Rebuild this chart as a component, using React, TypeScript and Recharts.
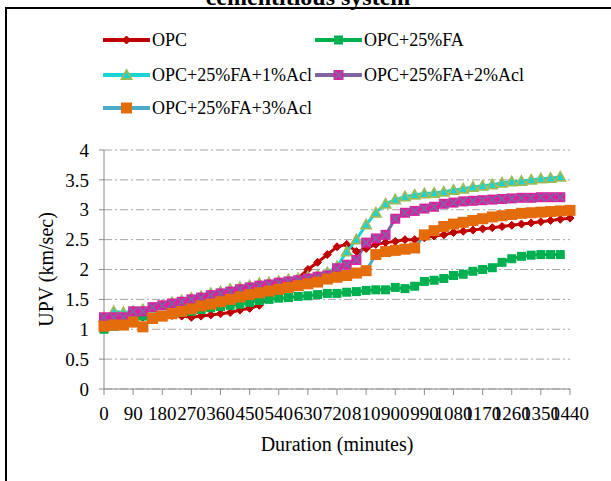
import React from 'react';
import {
    ComposedChart,
    Line,
    XAxis,
    YAxis,
    CartesianGrid,
    Label,
} from 'recharts';

const FONT = '"Liberation Serif", "Times New Roman", serif';

// minutes, one reading every 30 min
const minutes = [
    0, 30, 60, 90, 120, 150, 180, 210, 240, 270, 300, 330, 360, 390, 420, 450, 480,
    510, 540, 570, 600, 630, 660, 690, 720, 750, 780, 810, 840, 870, 900, 930, 960,
    990, 1020, 1050, 1080, 1110, 1140, 1170, 1200, 1230, 1260, 1290, 1320, 1350, 1380,
    1410, 1440,
];

const xTicks = [0, 90, 180, 270, 360, 450, 540, 630, 720, 810, 900, 990, 1080, 1170, 1260, 1350, 1440];
const yTicks = [0, 0.5, 1, 1.5, 2, 2.5, 3, 3.5, 4];

const opc = [
    1.15, 1.17, 1.18, 1.2, 1.2, 1.22, 1.22, 1.23, 1.22, 1.2, 1.22, 1.24, 1.26, 1.28, 1.32, 1.35, 1.4,
    1.55, 1.65, 1.75, 1.85, 2.0, 2.12, 2.25, 2.38, 2.42, 2.3, 2.35, 2.42, 2.45, 2.47, 2.5, 2.5,
    2.53, 2.56, 2.58, 2.62, 2.64, 2.66, 2.68, 2.7, 2.72, 2.74, 2.76, 2.78, 2.8, 2.82,
    2.84, 2.86,
];
const fa25 = [
    1.0, 1.05, 1.1, 1.15, 1.22, 1.2, 1.22, 1.25, 1.28, 1.3, 1.33, 1.36, 1.38, 1.4, 1.42, 1.45, 1.48,
    1.5, 1.52, 1.53, 1.55, 1.56, 1.58, 1.6, 1.6, 1.62, 1.63, 1.65, 1.66, 1.66, 1.7, 1.68, 1.72,
    1.8, 1.82, 1.85, 1.9, 1.92, 1.97, 2.0, 2.03, 2.12, 2.18, 2.22, 2.24, 2.25, 2.25,
    2.25, null,
];
const acl1 = [
    1.2, 1.3, 1.28, 1.3, 1.33, 1.35, 1.4, 1.45, 1.48, 1.52, 1.55, 1.6, 1.63, 1.67, 1.7, 1.73, 1.77,
    1.78, 1.8, 1.83, 1.85, 1.88, 1.9, 1.95, 2.05, 2.3, 2.5, 2.75, 2.95, 3.1, 3.17, 3.22, 3.25,
    3.27, 3.28, 3.3, 3.33, 3.35, 3.38, 3.4, 3.42, 3.45, 3.47, 3.48, 3.5, 3.52, 3.53,
    3.55, null,
];
const acl2 = [
    1.2, 1.2, 1.2, 1.3, 1.3, 1.37, 1.4, 1.43, 1.46, 1.5, 1.53, 1.57, 1.6, 1.63, 1.67, 1.7, 1.73,
    1.75, 1.78, 1.8, 1.82, 1.85, 1.88, 1.9, 2.02, 2.08, 2.16, 2.45, 2.52, 2.58, 2.85, 2.95, 2.98,
    3.02, 3.05, 3.1, 3.12, 3.14, 3.15, 3.16, 3.17, 3.18, 3.19, 3.2, 3.2, 3.21, 3.21,
    3.21, null,
];
const acl3 = [
    1.05, 1.07, 1.07, 1.12, 1.04, 1.18, 1.22, 1.26, 1.3, 1.34, 1.39, 1.42, 1.46, 1.5, 1.54, 1.58, 1.61,
    1.64, 1.67, 1.7, 1.73, 1.76, 1.79, 1.84, 1.87, 1.9, 1.94, 1.98, 2.25, 2.3, 2.32, 2.34, 2.36,
    2.58, 2.65, 2.72, 2.76, 2.79, 2.82, 2.85, 2.88, 2.9, 2.92, 2.94, 2.95, 2.96, 2.97,
    2.98, 2.99,
];

const C = {
    opc: '#C00000',
    fa: '#00B050',
    acl1Line: '#1BD3D3',
    acl1Edge: '#9BBB59',
    acl2Line: '#8064A2',
    acl2Fill: '#DE1E9E',
    acl3Line: '#4BACC6',
    acl3Fill: '#E46C0A',
    axis: '#8C8C8C',
    grid: '#A6A6A6',
};

const chartData = minutes.map((m, i) => ({
    min: m,
    opc: opc[i],
    fa25: fa25[i],
    acl1: acl1[i],
    acl2: acl2[i],
    acl3: acl3[i],
}));

// marker shapes, drawn round (cx, cy)
function diamond(cx: number, cy: number, s: number, color: string) {
    return <polygon points={`${cx},${cy - s} ${cx + s},${cy} ${cx},${cy + s} ${cx - s},${cy}`} fill={color} stroke={color} strokeWidth={1} />;
}
function square(cx: number, cy: number, s: number, fill: string) {
    return <rect x={cx - s} y={cy - s} width={s * 2} height={s * 2} fill={fill} />;
}
function triangle(cx: number, cy: number, s: number) {
    return (
        <polygon
            points={`${cx},${cy - s} ${cx + s},${cy + s * 0.8} ${cx - s},${cy + s * 0.8}`}
            fill={C.acl1Line}
            stroke={C.acl1Edge}
            strokeWidth={1.8}
        />
    );
}
function crossSquare(cx: number, cy: number, s: number) {
    return (
        <g>
            <rect x={cx - s} y={cy - s} width={s * 2} height={s * 2} fill={C.acl2Fill} />
            <path d={`M${cx - s + 1},${cy - s + 1}L${cx + s - 1},${cy + s - 1}M${cx + s - 1},${cy - s + 1}L${cx - s + 1},${cy + s - 1}`} stroke={C.acl2Line} strokeWidth={1.8} />
        </g>
    );
}

type Shape = (cx: number, cy: number) => React.ReactElement;

const shapes: Record<string, Shape> = {
    opc: (cx, cy) => diamond(cx, cy, 4, C.opc),
    fa25: (cx, cy) => square(cx, cy, 4.5, C.fa),
    acl1: (cx, cy) => triangle(cx, cy, 5),
    acl2: (cx, cy) => crossSquare(cx, cy, 5),
    acl3: (cx, cy) => square(cx, cy, 5.5, C.acl3Fill),
};

function makeDot(key: string) {
    return (props: any) => {
        const { cx, cy, index, value } = props;
        if (cx == null || cy == null || value == null || Number.isNaN(cy)) return <g key={`${key}-${index}`} />;
        return <g key={`${key}-${index}`}>{shapes[key](cx, cy)}</g>;
    };
}

const legendItems = [
    { key: 'opc', name: 'OPC', line: C.opc, x: 103, y: 40 },
    { key: 'fa25', name: 'OPC+25%FA', line: C.fa, x: 315, y: 40 },
    { key: 'acl1', name: 'OPC+25%FA+1%Acl', line: C.acl1Line, x: 103, y: 75 },
    { key: 'acl2', name: 'OPC+25%FA+2%Acl', line: C.acl2Line, x: 315, y: 75 },
    { key: 'acl3', name: 'OPC+25%FA+3%Acl', line: C.acl3Line, x: 103, y: 108 },
];

function ChartLegend() {
    return (
        <>
            {legendItems.map((it) => (
                <div key={it.key} style={{ position: 'absolute', left: it.x, top: it.y - 10, height: 20, display: 'flex', alignItems: 'center' }}>
                    <svg width={47} height={20}>
                        <line x1={1} y1={10} x2={46} y2={10} stroke={it.line} strokeWidth={4} strokeLinecap="round" />
                        {shapes[it.key](23.5, 10)}
                    </svg>
                    <span style={{ fontFamily: FONT, fontSize: 18, color: '#000', marginLeft: 2, whiteSpace: 'nowrap' }}>{it.name}</span>
                </div>
            ))}
        </>
    );
}

export default function App() {
    return (
        <div style={{ position: 'absolute', left: 0, top: 0, width: 611, height: 481, overflow: 'hidden', background: '#fff' }}>
            <div style={{ position: 'absolute', left: 5, top: 7, width: 700, height: 600, border: '2px solid #000' }} />
            <svg style={{ position: 'absolute', left: 0, top: 0 }} width={611} height={20}>
                <text x={308} y={5} textAnchor="middle" fontFamily={FONT} fontWeight="bold" fontSize={24} fill="#000">
                    cementitious system
                </text>
            </svg>
            <ChartLegend />
            <div style={{ position: 'absolute', left: 0, top: 0 }}>
                <ComposedChart width={611} height={481} data={chartData} margin={{ top: 150, right: 41, left: 44, bottom: 32 }}>
                    <CartesianGrid horizontal vertical={false} stroke={C.grid} strokeDasharray="8 3 2 3" />
                    <XAxis
                        dataKey="min"
                        type="number"
                        domain={[0, 1440]}
                        ticks={xTicks}
                        interval={0}
                        height={60}
                        tickSize={6}
                        tickMargin={12}
                        stroke={C.axis}
                        tick={{ fontSize: 19, fontFamily: FONT, fill: '#000' }}
                    >
                        <Label value="Duration (minutes)" position="insideBottom" offset={-2} style={{ fontSize: 20, fontFamily: FONT, fill: '#000' }} />
                    </XAxis>
                    <YAxis
                        type="number"
                        domain={[0, 4]}
                        ticks={yTicks}
                        interval={0}
                        width={60}
                        tickSize={5}
                        tickMargin={10}
                        stroke={C.axis}
                        tick={{ fontSize: 19, fontFamily: FONT, fill: '#000' }}
                    >
                        <Label
                            value="UPV (km/sec)"
                            angle={-90}
                            position="insideLeft"
                            offset={2}
                            style={{ textAnchor: 'middle', fontSize: 20, fontFamily: FONT, fill: '#000' }}
                        />
                    </YAxis>

                    <Line dataKey="opc" name="OPC" stroke={C.opc} strokeWidth={3} dot={makeDot('opc')} activeDot={false} isAnimationActive={false} />
                    <Line dataKey="fa25" name="OPC+25%FA" stroke={C.fa} strokeWidth={3} dot={makeDot('fa25')} activeDot={false} isAnimationActive={false} />
                    <Line dataKey="acl1" name="OPC+25%FA+1%Acl" stroke={C.acl1Line} strokeWidth={3} dot={makeDot('acl1')} activeDot={false} isAnimationActive={false} />
                    <Line dataKey="acl2" name="OPC+25%FA+2%Acl" stroke={C.acl2Line} strokeWidth={3} dot={makeDot('acl2')} activeDot={false} isAnimationActive={false} />
                    <Line dataKey="acl3" name="OPC+25%FA+3%Acl" stroke={C.acl3Line} strokeWidth={3} dot={makeDot('acl3')} activeDot={false} isAnimationActive={false} />
                </ComposedChart>
            </div>
        </div>
    );
}
